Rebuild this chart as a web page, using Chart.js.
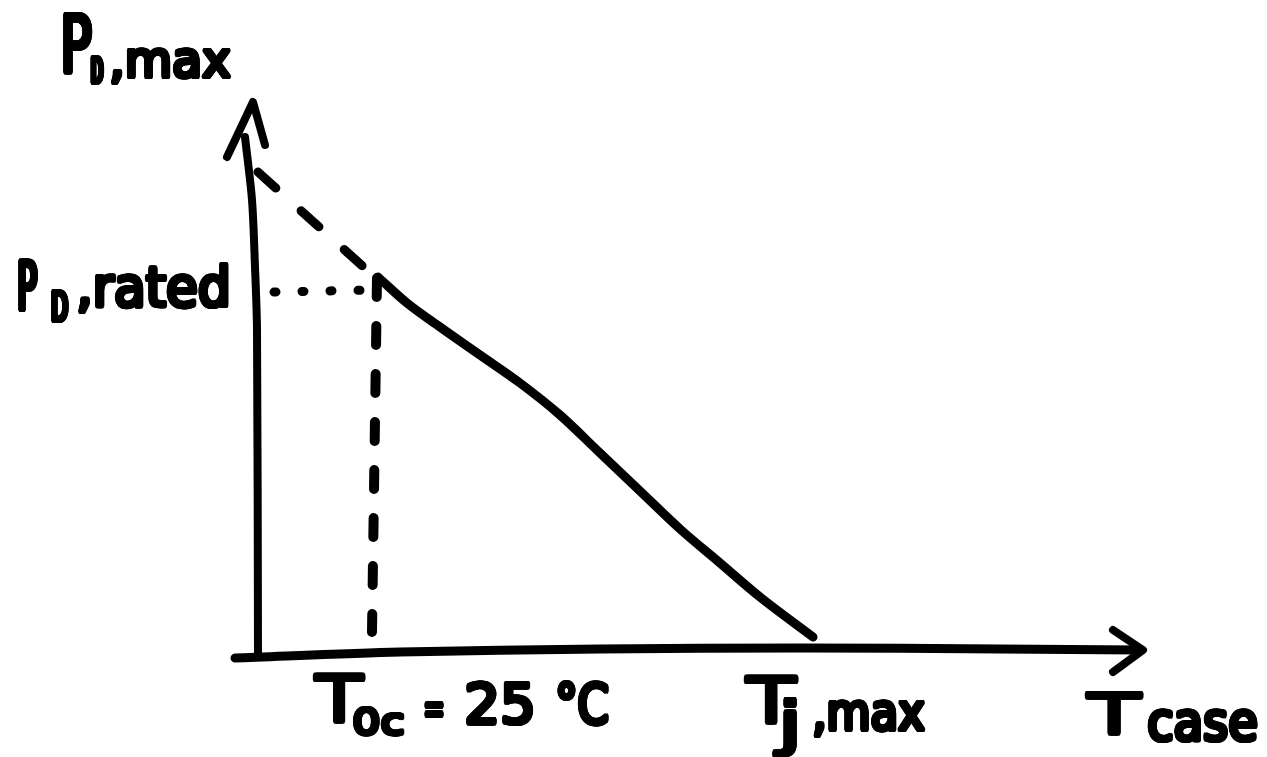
<!DOCTYPE html>
<html>
<head>
<meta charset="utf-8">
<script src="https://cdn.jsdelivr.net/npm/chart.js@4/dist/chart.umd.min.js"></script>
<style>
  html, body { margin: 0; padding: 0; background: #ffffff; }
  #wrap { position: relative; width: 1267px; height: 757px; }
</style>
</head>
<body>
<div id="wrap"><canvas id="c"></canvas></div>
<script>
// ---- Sketch values (arbitrary units: T along x, P_D along y) ----
// Derating curve (solid)
const curveT = [12.0, 14.9, 18.2, 22.2, 26.2, 30.2, 34.2, 38.2, 42.2, 46.2, 50.2, 55.5];
const curveP = [37.8, 35.2, 32.8, 30.0, 27.2, 24.0, 20.2, 16.4, 12.6, 9.2, 5.8, 1.8];
// Extrapolated dashed line toward P axis
const extrapT = [0.0, 12.0];
const extrapP = [48.3, 37.5];
// Dotted line at P_D,rated
const ratedT = [1.6, 11.6];
const ratedP = [36.3, 36.5];
// Dashed vertical at T0c = 25°C
const tocT = [11.9, 11.4];
const tocP = [37.7, 2.3];
// Axes (hand drawn)
const yAxisT = [0, -0.1, -0.3, -0.6, -1.3];
const yAxisP = [0, 32.5, 38.8, 45.5, 51.8];
const yArrowT = [-3.1, -0.5, 0.7];
const yArrowP = [49.8, 55.3, 51.0];
const xAxisT = [-2.3, 14.2, 34.2, 54.2, 74.2, 88.2];
const xAxisP = [-0.3, 0.3, 0.6, 0.7, 0.6, 0.5];
const xArrowT = [85.5, 88.5, 85.5];
const xArrowP = [2.5, 0.5, -1.7];
// Text labels
const labelTexts = ["P", "D", ",max", "P", "D", ",rated", "T", "0c", "=", "25", "°C", "T", "j", ",max", "T", "case"];

const pts = (xs, ys) => xs.map((x, i) => ({ x: x, y: ys[i] }));

// label layout: [x, baseline y, width] in axis units, font px
const labelLayout = [
  [-20.0, 58.2, 3.6, 80],
  [-16.9, 57.2, 1.6, 36],
  [-15.1, 57.8, 12.6, 50],
  [-24.3, 34.5, 2.4, 68],
  [-20.9, 33.4, 2.1, 40],
  [-18.4, 34.9, 15.9, 56],
  [5.5, -6.7, 5.2, 64],
  [9.2, -7.9, 5.7, 36],
  [16.4, -6.9, 2.4, 44],
  [20.4, -6.8, 7.6, 56],
  [29.5, -6.8, 5.8, 56],
  [48.6, -6.7, 5.4, 62],
  [51.6, -8.9, 3.2, 58],
  [55.2, -7.5, 11.7, 52],
  [82.7, -7.8, 5.8, 56],
  [88.7, -8.5, 11.5, 54]
];

const ink = '#000000';
const base = { showLine: true, pointRadius: 0, borderColor: ink, backgroundColor: ink,
  borderCapStyle: 'round', borderJoinStyle: 'round', fill: false, tension: 0 };

const labelPlugin = {
  id: 'sketchLabels',
  afterDatasetsDraw(chart) {
    const ctx = chart.ctx, xs = chart.scales.x, ys = chart.scales.y;
    const r = 2.2, offs = [];
    for (let a = 0; a < 16; a++) offs.push([r * Math.cos(a * Math.PI / 8), r * Math.sin(a * Math.PI / 8)]);
    offs.push([0, 0]);
    labelTexts.forEach((t, i) => {
      const [lx, ly, lw, fs] = labelLayout[i];
      const px = xs.getPixelForValue(lx);
      const py = ys.getPixelForValue(ly);
      const pw = xs.getPixelForValue(lx + lw) - px;
      ctx.save();
      ctx.font = fs + 'px "DejaVu Sans Condensed", "DejaVu Sans"';
      ctx.textBaseline = 'alphabetic';
      ctx.textAlign = 'left';
      const mw = ctx.measureText(t).width;
      const sx = (pw - 2 * r) / mw;
      ctx.fillStyle = ink;
      offs.forEach(([dx, dy]) => {
        ctx.save();
        ctx.translate(px + r + dx, py + dy);
        ctx.scale(sx, 1);
        ctx.fillText(t, 0, 0);
        ctx.restore();
      });
      ctx.restore();
    });
  }
};

new Chart(document.getElementById('c'), {
  type: 'scatter',
  data: {
    datasets: [
      Object.assign({}, base, { label: 'P axis', data: pts(yAxisT, yAxisP), borderWidth: 8, tension: 0.3 }),
      Object.assign({}, base, { label: 'P arrow', data: pts(yArrowT, yArrowP), borderWidth: 8 }),
      Object.assign({}, base, { label: 'T axis', data: pts(xAxisT, xAxisP), borderWidth: 9, tension: 0.3 }),
      Object.assign({}, base, { label: 'T arrow', data: pts(xArrowT, xArrowP), borderWidth: 8 }),
      Object.assign({}, base, { label: 'derating', data: pts(curveT, curveP), borderWidth: 9, cubicInterpolationMode: 'monotone' }),
      Object.assign({}, base, { label: 'extrapolation', data: pts(extrapT, extrapP), borderWidth: 9, borderDash: [24, 34] }),
      Object.assign({}, base, { label: 'rated', data: pts(ratedT, ratedP), borderWidth: 9, borderDash: [2, 26] }),
      Object.assign({}, base, { label: 'T0c', data: pts(tocT, tocP), borderWidth: 10, borderDash: [19, 29] })
    ]
  },
  options: {
    responsive: true,
    maintainAspectRatio: false,
    animation: false,
    layout: { padding: 0 },
    plugins: { legend: { display: false }, tooltip: { enabled: false }, title: { display: false } },
    scales: {
      x: { type: 'linear', display: false, min: -25.8, max: 100.9 },
      y: { type: 'linear', display: false, min: -10.2, max: 65.5 }
    }
  },
  plugins: [labelPlugin]
});
</script>
</body>
</html>
